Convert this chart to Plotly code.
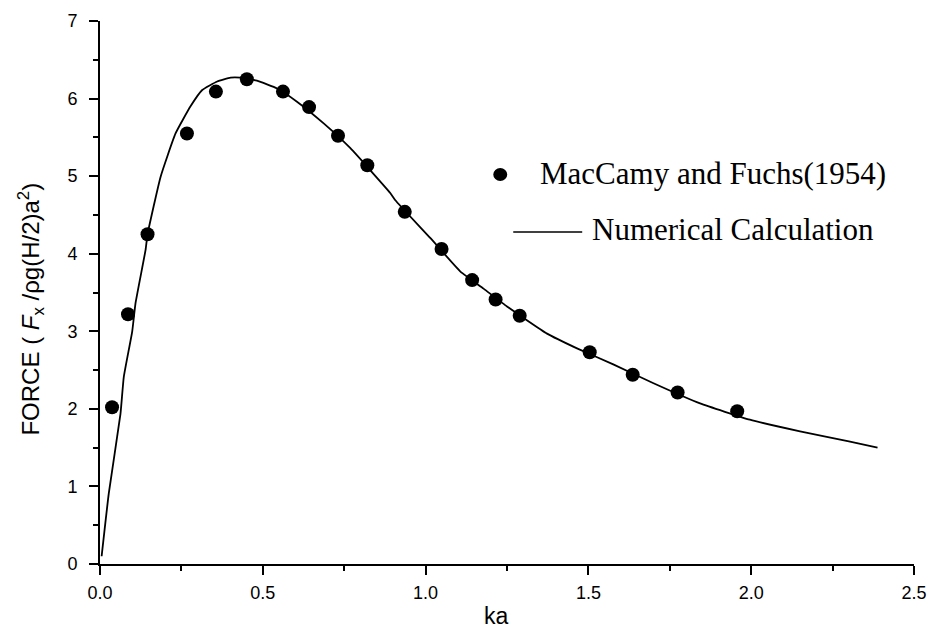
import plotly.graph_objects as go

# MacCamy and Fuchs (1954) data points
mf_ka = [0.037, 0.086, 0.146, 0.267, 0.356, 0.451, 0.562, 0.642, 0.731, 0.821,
         0.936, 1.049, 1.143, 1.215, 1.289, 1.504, 1.636, 1.774, 1.957]
mf_force = [2.02, 3.22, 4.25, 5.55, 6.09, 6.25, 6.09, 5.89, 5.52, 5.14,
            4.54, 4.06, 3.66, 3.41, 3.20, 2.73, 2.44, 2.21, 1.97]

# Numerical calculation curve
num_ka = [0.005, 0.027, 0.063, 0.073, 0.099, 0.109, 0.140, 0.146, 0.186, 0.232,
          0.278, 0.314, 0.360, 0.401, 0.431, 0.482, 0.544, 0.605, 0.687, 0.769,
          0.892, 0.907, 1.015, 1.107, 1.178, 1.250, 1.373, 1.465, 1.578, 1.700,
          1.843, 1.996, 2.150, 2.300, 2.388]
num_force = [0.10, 0.91, 1.94, 2.41, 3.00, 3.36, 4.05, 4.25, 4.99, 5.55,
             5.90, 6.11, 6.22, 6.27, 6.27, 6.23, 6.13, 5.96, 5.68, 5.36,
             4.78, 4.69, 4.20, 3.77, 3.55, 3.32, 2.97, 2.78, 2.57, 2.33,
             2.07, 1.86, 1.71, 1.58, 1.50]

x_ticks = [0.0, 0.5, 1.0, 1.5, 2.0, 2.5]
x_tick_labels = ["0.0", "0.5", "1.0", "1.5", "2.0", "2.5"]
y_ticks = [0, 1, 2, 3, 4, 5, 6, 7]

legend_labels = ["MacCamy and Fuchs(1954)", "Numerical Calculation"]
x_title = "ka"
y_title = "FORCE ( <i>F</i><sub>x</sub> /ρg(H/2)a<sup>2</sup>)"

# plot area in pixels
L, R, T, B = 99.5, 914.0, 21.0, 564.0
W, H = R - L, B - T


def px(x):
    return (x - L) / W


def py(y):
    return (B - y) / H


fig = go.Figure()
fig.add_trace(go.Scatter(x=num_ka, y=num_force, mode="lines",
                         line=dict(color="black", width=1.8, shape="spline", smoothing=0.4),
                         name=legend_labels[1], showlegend=False))
fig.add_trace(go.Scatter(x=mf_ka, y=mf_force, mode="markers",
                         marker=dict(color="black", size=14, symbol="circle"),
                         name=legend_labels[0], showlegend=False))

sans = "Liberation Sans, Arial, sans-serif"
axis_font = dict(family=sans, size=18, color="black")

fig.update_xaxes(range=[0, 2.5], tickvals=x_ticks, ticktext=x_tick_labels,
                 showline=True, linecolor="black", linewidth=2, showgrid=False, zeroline=False,
                 ticks="outside", ticklen=9, tickwidth=2, tickcolor="black",
                 minor=dict(dtick=0.25, tick0=0, ticks="outside", ticklen=5, tickwidth=2, tickcolor="black"),
                 tickfont=axis_font, ticklabelstandoff=2)
fig.update_yaxes(range=[0, 7], tickvals=y_ticks,
                 showline=True, linecolor="black", linewidth=2, showgrid=False, zeroline=False,
                 ticks="outside", ticklen=9, tickwidth=2, tickcolor="black",
                 minor=dict(dtick=0.5, tick0=0, ticks="outside", ticklen=5, tickwidth=2, tickcolor="black"),
                 tickfont=axis_font, ticklabelstandoff=8)

# axis titles as annotations (positioned like the reference)
fig.add_annotation(xref="paper", yref="paper", x=px(496), y=py(616), text=x_title,
                   showarrow=False, xanchor="center", yanchor="middle",
                   font=dict(family=sans, size=23, color="black"))
fig.add_annotation(xref="paper", yref="paper", x=px(30), y=py(309), text=y_title,
                   showarrow=False, xanchor="center", yanchor="middle", textangle=-90,
                   font=dict(family=sans, size=24, color="black"))

# legend drawn manually
serif = dict(family="Liberation Serif, Times New Roman, serif", size=31, color="black")
fig.add_shape(type="circle", xref="paper", yref="paper",
              x0=px(493), x1=px(507), y0=py(181), y1=py(168),
              fillcolor="black", line=dict(color="black", width=0))
fig.add_shape(type="line", xref="paper", yref="paper",
              x0=px(513), x1=px(582), y0=py(232), y1=py(232),
              line=dict(color="black", width=1.5))
fig.add_annotation(xref="paper", yref="paper", x=px(538), y=py(174),
                   text=legend_labels[0], showarrow=False, xanchor="left", yanchor="middle", font=serif)
fig.add_annotation(xref="paper", yref="paper", x=px(590), y=py(229),
                   text=legend_labels[1], showarrow=False, xanchor="left", yanchor="middle", font=serif)

fig.update_layout(width=938, height=635, plot_bgcolor="white", paper_bgcolor="white",
                  margin=dict(l=L, r=938 - R, t=T, b=635 - B, pad=0), showlegend=False)

fig.write_html("out.html")
